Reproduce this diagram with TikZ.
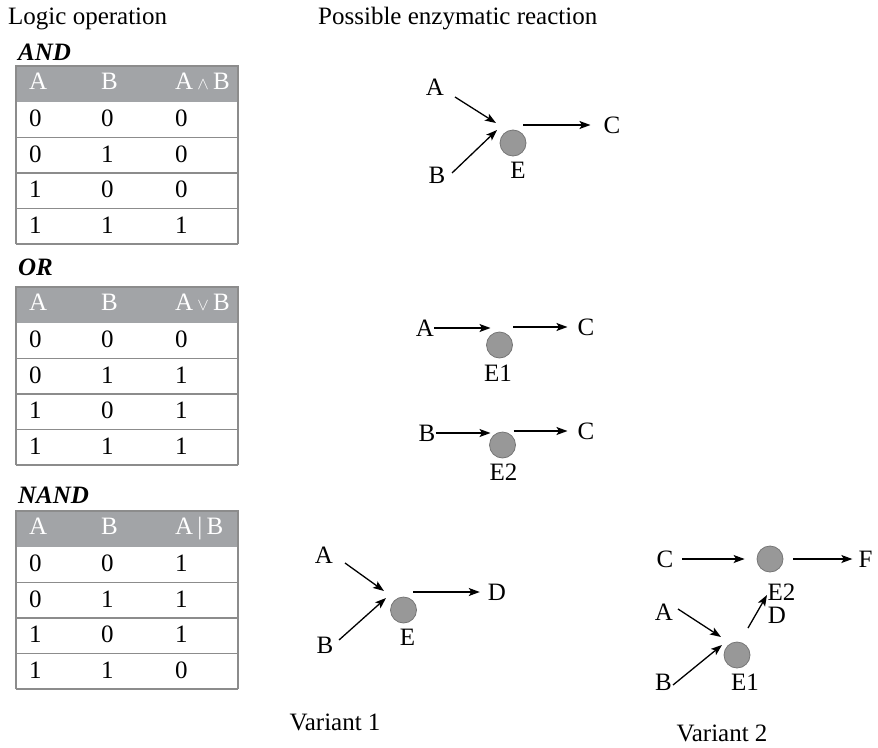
\documentclass[tikz,border=0pt]{standalone}
\usepackage{fontspec}
\setmainfont{Liberation Serif}
\usetikzlibrary{arrows.meta}
\definecolor{hdrgray}{RGB}{162,164,167}
\definecolor{rulegray}{RGB}{140,140,140}
\definecolor{enzfill}{RGB}{152,152,152}
\definecolor{enzedge}{RGB}{118,118,118}

\begin{document}
\begin{tikzpicture}[x=1pt, y=-1pt,
  every node/.style={font=\fontsize{25}{30}\selectfont, inner sep=0pt},
  txt/.style={anchor=base west},
  hdr/.style={anchor=base west, text=white},
  opname/.style={font=\fontsize{25}{30}\selectfont\bfseries\itshape},
  enz/.style={circle, draw=enzedge, line width=0.8pt, fill=enzfill, minimum size=26pt},
  rxn/.style={-{Stealth[length=11pt, width=8pt, inset=2.5pt]}, line width=1.3pt},
  tblline/.style={draw=rulegray, line width=1.2pt}]
  \useasboundingbox (0,0) rectangle (878,747);
  \node[txt] (logic) at (8,24) {Logic operation};
  \node[txt] (possible) at (318,24) {Possible enzymatic reaction};

  % AND table
  \node[txt, opname] (andName) at (18,60) {AND};
  \fill[hdrgray] (16,66) rectangle (238,102);
  \draw[tblline] (16,244) -- (16,66) -- (238,66) -- (238,244);
  \foreach \k in {1,...,4} \draw[tblline] (16,{102+35.5*\k}) -- (238,{102+35.5*\k});
  \node[hdr] (andHa) at (29,89) {A};
  \node[hdr] (andHb) at (101,89) {B};
  \node[hdr] (andHr) at (175,89) {A\,$\scriptstyle\wedge$\,B};
  \foreach \a/\b/\r [count=\i] in {0/0/0, 0/1/0, 1/0/0, 1/1/1} {
    \node[txt] (andA\i) at (29,{91+35.5*\i}) {\a};
    \node[txt] (andB\i) at (101,{91+35.5*\i}) {\b};
    \node[txt] (andR\i) at (175,{91+35.5*\i}) {\r};
  }

  % OR table
  \node[txt, opname] (orName) at (18,275) {OR};
  \fill[hdrgray] (16,287) rectangle (238,323);
  \draw[tblline] (16,465) -- (16,287) -- (238,287) -- (238,465);
  \foreach \k in {1,...,4} \draw[tblline] (16,{323+35.5*\k}) -- (238,{323+35.5*\k});
  \node[hdr] (orHa) at (29,310) {A};
  \node[hdr] (orHb) at (101,310) {B};
  \node[hdr] (orHr) at (175,310) {A\,$\scriptstyle\vee$\,B};
  \foreach \a/\b/\r [count=\i] in {0/0/0, 0/1/1, 1/0/1, 1/1/1} {
    \node[txt] (orA\i) at (29,{312+35.5*\i}) {\a};
    \node[txt] (orB\i) at (101,{312+35.5*\i}) {\b};
    \node[txt] (orR\i) at (175,{312+35.5*\i}) {\r};
  }

  % NAND table
  \node[txt, opname] (nandName) at (18,503) {NAND};
  \fill[hdrgray] (16,511) rectangle (238,547);
  \draw[tblline] (16,689) -- (16,511) -- (238,511) -- (238,689);
  \foreach \k in {1,...,4} \draw[tblline] (16,{547+35.5*\k}) -- (238,{547+35.5*\k});
  \node[hdr] (nandHa) at (29,534) {A};
  \node[hdr] (nandHb) at (101,534) {B};
  \node[hdr] (nandHr) at (175,534) {A\,|\,B};
  \foreach \a/\b/\r [count=\i] in {0/0/1, 0/1/1, 1/0/1, 1/1/0} {
    \node[txt] (nandA\i) at (29,{536+35.5*\i}) {\a};
    \node[txt] (nandB\i) at (101,{536+35.5*\i}) {\b};
    \node[txt] (nandR\i) at (175,{536+35.5*\i}) {\r};
  }

  % AND reaction
  \node (andRa) at (435,87) {A};
  \node (andRb) at (437,175) {B};
  \node[enz] (andE) at (513,143) {};
  \node (andEl) at (518,170) {E};
  \node (andRc) at (612,125) {C};
  \draw[rxn] ([shift={(20,10)}]andRa.center) -- ([shift={(-17,-20)}]andE.center);
  \draw[rxn] ([shift={(15,-2)}]andRb.center) -- ([shift={(-16,-13)}]andE.center);
  \draw[rxn, shorten >=13pt] ([shift={(10,-18)}]andE.center) -- (andRc.west);

  % OR reactions
  \node (orRa) at (425,328) {A};
  \node[enz] (orE1) at (499.5,345) {};
  \node (orE1l) at (498,373) {E1};
  \node (orRc1) at (586,327) {C};
  \draw[rxn] (orRa.east) -- ([shift={(-9,-17)}]orE1.center);
  \draw[rxn, shorten >=10pt] ([shift={(13.5,-18)}]orE1.center) -- (orRc1.west);
  \node (orRb) at (427,433) {B};
  \node[enz] (orE2) at (502.5,445) {};
  \node (orE2l) at (503.5,472) {E2};
  \node (orRc2) at (586,431) {C};
  \draw[rxn] (orRb.east) -- ([shift={(-12,-12)}]orE2.center);
  \draw[rxn, shorten >=10pt] ([shift={(11,-14)}]orE2.center) -- (orRc2.west);

  % Variant 1
  \node (v1A) at (324,555) {A};
  \node (v1B) at (325,645) {B};
  \node[enz] (v1E) at (403.5,610) {};
  \node (v1El) at (407.5,637) {E};
  \node (v1D) at (497,592) {D};
  \draw[rxn] ([shift={(21,8)}]v1A.center) -- ([shift={(-19.5,-19)}]v1E.center);
  \draw[rxn] ([shift={(14,-5)}]v1B.center) -- ([shift={(-17.5,-12)}]v1E.center);
  \draw[rxn, shorten >=8pt] ([shift={(9.5,-18)}]v1E.center) -- (v1D.west);
  \node (v1lab) at (335,722) {Variant 1};

  % Variant 2
  \node (v2C) at (665,559) {C};
  \node[enz] (v2E2) at (770,559) {};
  \node (v2F) at (865.5,559) {F};
  \node (v2E2l) at (781.5,592) {E2};
  \node (v2D) at (777,615) {D};
  \node (v2A) at (664,612) {A};
  \node (v2B) at (663.5,682.5) {B};
  \node[enz] (v2E1) at (737,655) {};
  \node (v2E1l) at (745,682) {E1};
  \draw[rxn, shorten <=8.7pt, shorten >=12pt] (v2C.east) -- (v2E2);
  \draw[rxn, shorten <=10pt, shorten >=6pt] (v2E2) -- (v2F.west);
  \draw[rxn] ([shift={(14,-3)}]v2A.center) -- ([shift={(-16,-18)}]v2E1.center);
  \draw[rxn] ([shift={(9.5,2.5)}]v2B.center) -- ([shift={(-15,-10)}]v2E1.center);
  \draw[rxn] ([shift={(11,-27)}]v2E1.center) -- ([shift={(-3,36)}]v2E2.center);
  \node (v2lab) at (722,733) {Variant 2};
\end{tikzpicture}
\end{document}
